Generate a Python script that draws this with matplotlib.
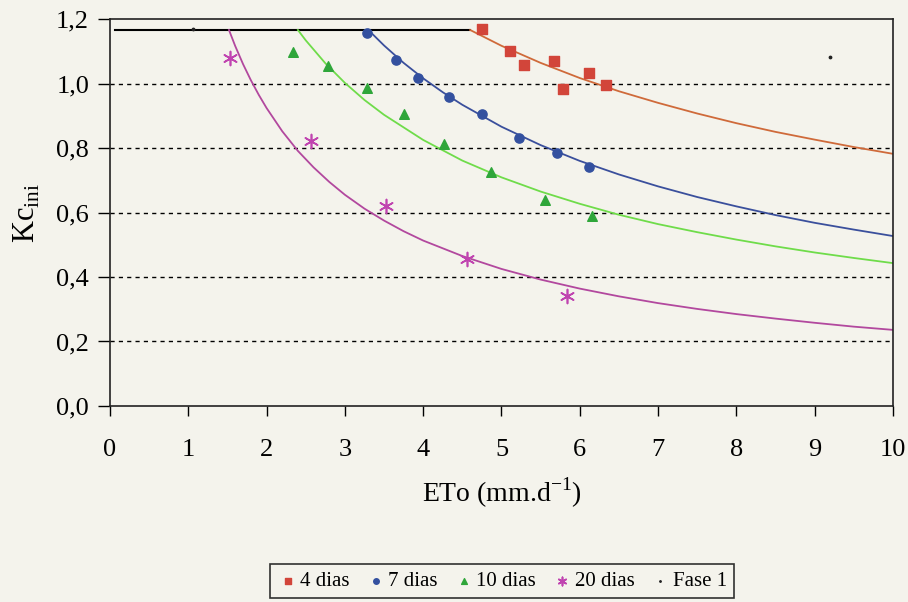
import matplotlib
matplotlib.use("Agg")
import matplotlib.pyplot as plt
from matplotlib.ticker import FixedLocator, FixedFormatter

plt.rcParams['font.family'] = ['Liberation Serif', 'DejaVu Serif']
plt.rcParams['mathtext.fontset'] = 'custom'
plt.rcParams['mathtext.rm'] = 'Liberation Serif'

# measured points (ETo, Kc ini)
x4 = [4.75, 5.11, 5.29, 5.67, 5.79, 6.12, 6.33]
y4 = [1.169, 1.10, 1.057, 1.07, 0.983, 1.033, 0.995]
x7 = [3.28, 3.65, 3.94, 4.33, 4.75, 5.22, 5.71, 6.12]
y7 = [1.157, 1.073, 1.017, 0.958, 0.905, 0.831, 0.785, 0.741]
x10 = [2.34, 2.79, 3.28, 3.75, 4.26, 4.86, 5.56, 6.16]
y10 = [1.098, 1.054, 0.986, 0.905, 0.812, 0.726, 0.639, 0.589]
x20 = [1.53, 2.57, 3.52, 4.56, 5.84]
y20 = [1.079, 0.822, 0.62, 0.456, 0.341]
xf1 = [1.06, 9.2]
yf1 = [1.169, 1.082]

# fitted curves
cx4 = [4.6, 5.0, 5.5, 6.0, 6.5, 7.0, 7.5, 8.0, 8.5, 9.0, 9.5, 10.0]
cy4 = [1.166, 1.117, 1.064, 1.017, 0.976, 0.940, 0.907, 0.877, 0.850, 0.826, 0.803, 0.782]
cx7 = [3.3, 3.5, 3.75, 4.0, 4.25, 4.5, 5.0, 5.5, 6.0, 6.5, 7.0, 7.5, 8.0, 8.5, 9.0, 9.5, 10.0]
cy7 = [1.166, 1.118, 1.064, 1.016, 0.973, 0.934, 0.866, 0.809, 0.760, 0.718, 0.681, 0.648, 0.619, 0.592, 0.568, 0.547, 0.527]
cx10 = [2.4, 2.5, 2.75, 3.0, 3.25, 3.5, 4.0, 4.5, 5.0, 5.5, 6.0, 6.5, 7.0, 7.5, 8.0, 8.5, 9.0, 9.5, 10.0]
cy10 = [1.166, 1.134, 1.063, 1.002, 0.949, 0.903, 0.825, 0.761, 0.709, 0.665, 0.627, 0.593, 0.564, 0.539, 0.516, 0.495, 0.476, 0.459, 0.443]
cx20 = [1.52, 1.6, 1.7, 1.8, 1.9, 2.0, 2.2, 2.4, 2.6, 2.8, 3.0, 3.25, 3.5, 3.75, 4.0, 4.5, 5.0, 5.5, 6.0,
        6.5, 7.0, 7.5, 8.0, 8.5, 9.0, 9.5, 10.0]
cy20 = [1.166, 1.116, 1.060, 1.010, 0.965, 0.924, 0.852, 0.791, 0.740, 0.695, 0.655, 0.612, 0.575, 0.542, 0.513,
        0.465, 0.425, 0.392, 0.364, 0.340, 0.319, 0.301, 0.285, 0.271, 0.258, 0.246, 0.236]
kc_max_x = [0.06, 4.6]
kc_max_y = [1.166, 1.166]

yticks = [0.0, 0.2, 0.4, 0.6, 0.8, 1.0, 1.2]
ylabels = ['0,0', '0,2', '0,4', '0,6', '0,8', '1,0', '1,2']
xticks = list(range(0, 11))

bg = '#f4f3ec'
fig = plt.figure(figsize=(9.08, 6.02), dpi=100, facecolor=bg)
ax = fig.add_axes([0.1211, 0.3256, 0.8624, 0.6428], facecolor=bg)

for g in yticks[1:-1]:
    ax.axhline(g, color='black', lw=1.0, ls=(0, (3, 3)), zorder=1)

ax.plot(kc_max_x, kc_max_y, color='black', lw=1.5, zorder=2)
ax.plot(cx4, cy4, color='#cf6a3a', lw=1.3, zorder=2)
ax.plot(cx7, cy7, color='#3a4f9c', lw=1.3, zorder=2)
ax.plot(cx10, cy10, color='#6fdc4a', lw=1.3, zorder=2)
ax.plot(cx20, cy20, color='#b2489e', lw=1.3, zorder=2)

ax.scatter(x4, y4, marker='s', s=48, color='#d2453a', label='4 dias', zorder=3)
ax.scatter(x7, y7, marker='o', s=44, color='#33509f', label='7 dias', zorder=3)
ax.scatter(x10, y10, marker='^', s=48, color='#2fa63a', label='10 dias', zorder=3)
ax.scatter(x20, y20, marker=(6, 2, 0), s=100, linewidths=1.2, color='#c044b0', label='20 dias', zorder=3)
ax.scatter(xf1, yf1, marker='.', s=12, color='#222222', label='Fase 1', zorder=3)

ax.set_xlim(0, 10)
ax.set_ylim(0, 1.2)
ax.xaxis.set_major_locator(FixedLocator(xticks))
ax.yaxis.set_major_locator(FixedLocator(yticks))
ax.yaxis.set_major_formatter(FixedFormatter(ylabels))
ax.tick_params(axis='x', direction='out', length=7, width=1, pad=17, labelsize=19)
ax.tick_params(axis='y', direction='out', length=9, width=1, pad=6, labelsize=19)
for s in ax.spines.values():
    s.set_linewidth(1.2)
    s.set_color('#222222')

ax.set_xlabel(r'ETo (mm.d$^{\mathregular{-1}}$)', fontsize=20, labelpad=10)
ax.set_ylabel(r'Kc$_{\mathregular{ini}}$', fontsize=22, labelpad=10)

leg = fig.legend(loc='lower center', bbox_to_anchor=(0.553, 0.006), ncol=5, fontsize=15,
                 frameon=True, fancybox=False, edgecolor='black', facecolor=bg,
                 handletextpad=0.1, columnspacing=0.75, borderpad=0.35, handlelength=1.0,
                 markerscale=0.6, borderaxespad=0.0)
leg.get_frame().set_linewidth(1.2)

fig.savefig('out.png', dpi=100, facecolor=bg)
